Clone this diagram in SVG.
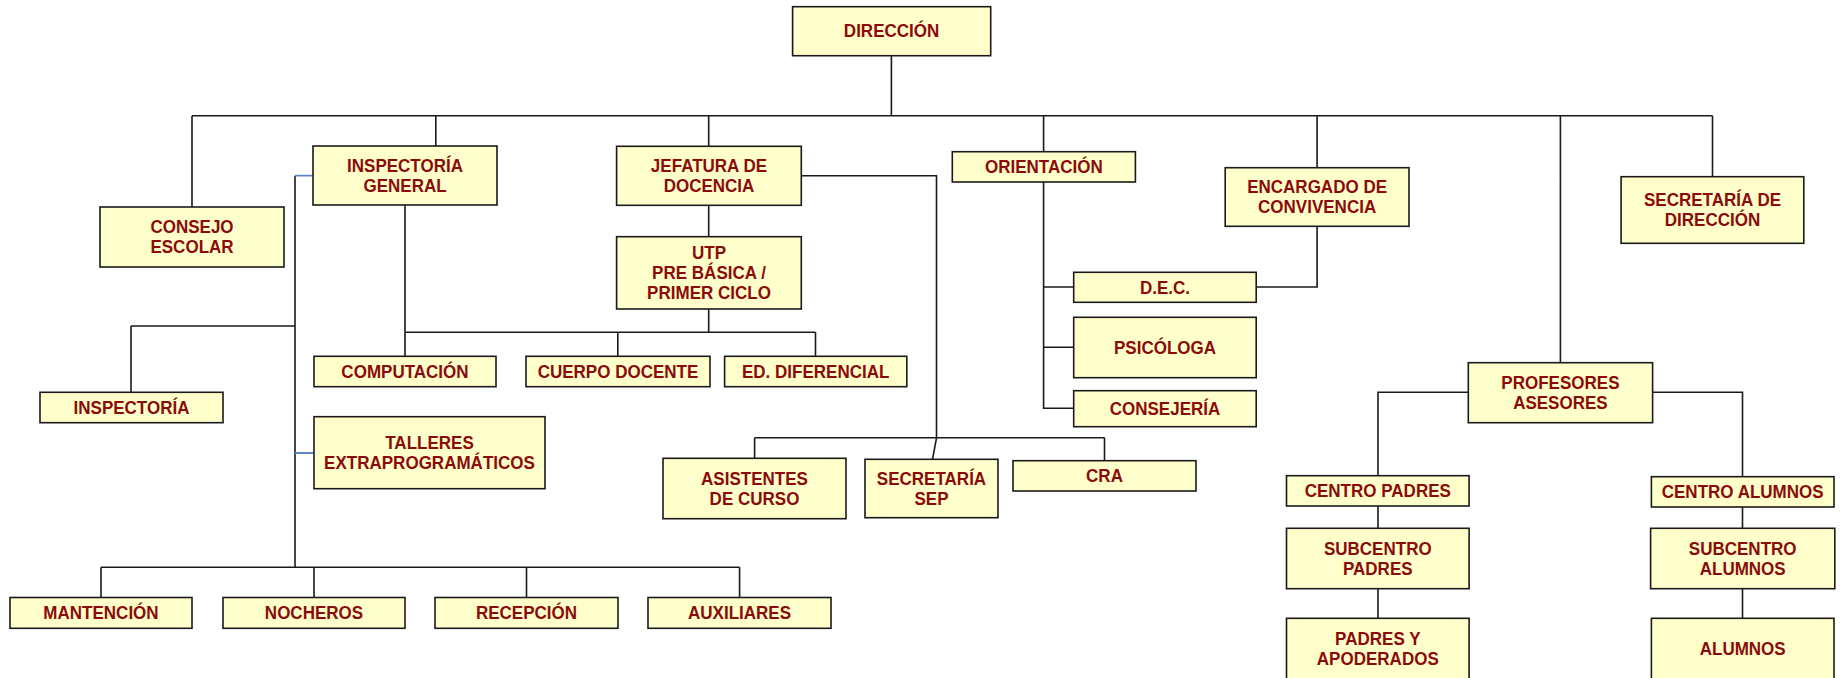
<svg xmlns="http://www.w3.org/2000/svg" width="1844" height="678" viewBox="0 0 1844 678">
<style>
.b{fill:#FFFFCC;stroke:#1a1a1a;stroke-width:1.6}
.t{font-family:"Liberation Sans",Arial,sans-serif;font-weight:bold;font-size:18.5px;fill:#8B0A0A;text-anchor:middle;transform-box:fill-box;transform-origin:center;transform:scaleX(0.92)}
.c{fill:none;stroke:#1a1a1a;stroke-width:1.6}
.bl{fill:none;stroke:#5B88CC;stroke-width:1.8}
</style>
<rect width="1844" height="678" fill="#ffffff"/>
<g id="connectors">
<path class="c" d="M891.4 55.7V115.7M192 115.7H1712.5M192 115.7V207M435.8 115.7V146M708.7 115.7V146M1043.6 115.7V151.7M1317.1 115.7V167.7M1560.4 115.7V362.7M1712.5 115.7V176.7"/>
<path class="c" d="M295 175.7V567.3M131 326H295M131 326V392.3M101 567.3H739.6M101 567.3V597.5M314 567.3V597.5M526.5 567.3V597.5M739.6 567.3V597.5"/>
<path class="bl" d="M295 175.7H313M295 453H314"/>
<path class="c" d="M405 205V332.3H815.5M617.8 332.3V356.3M815.5 332.3V356.3M405 332.3V356.3"/>
<path class="c" d="M708.7 205.3V236.7M708.7 309V332.3"/>
<path class="c" d="M801.3 175.7H936.5V438M754.6 437.7H1104.5M754.6 437.7V458.3M936.5 438L932.5 459.3M1104.5 437.7V460.7"/>
<path class="c" d="M1043.6 182V408.3H1073.7M1043.6 287H1073.7M1043.6 347.3H1073.7"/>
<path class="c" d="M1317.1 226.3V287H1256.2"/>
<path class="c" d="M1468.3 392.3H1378V475.7M1652.6 392.3H1742.5V476.7M1378 506V528.3M1378 588.7V618.3M1742.5 507V528.3M1742.5 588.7V618.3"/>
</g>
<g id="direccion"><rect class="b" x="792.6" y="6.7" width="198.1" height="49"/><text class="t" x="891.6" y="37.5">DIRECCIÓN</text></g>
<g id="consejo-escolar"><rect class="b" x="100" y="207" width="184" height="60"/><text class="t" x="192" y="233.3">CONSEJO</text><text class="t" x="192" y="253.3">ESCOLAR</text></g>
<g id="inspectoria-general"><rect class="b" x="313" y="146" width="184" height="59"/><text class="t" x="405" y="171.8">INSPECTORÍA</text><text class="t" x="405" y="191.8">GENERAL</text></g>
<g id="jefatura"><rect class="b" x="616.6" y="146.3" width="184.7" height="59"/><text class="t" x="709" y="172.1">JEFATURA DE</text><text class="t" x="709" y="192.1">DOCENCIA</text></g>
<g id="utp"><rect class="b" x="616.6" y="236.7" width="184.7" height="72.3"/><text class="t" x="709" y="259.1">UTP</text><text class="t" x="709" y="279.1">PRE BÁSICA /</text><text class="t" x="709" y="299.1">PRIMER CICLO</text></g>
<g id="orientacion"><rect class="b" x="952.3" y="151.7" width="183.1" height="30.3"/><text class="t" x="1043.9" y="173">ORIENTACIÓN</text></g>
<g id="encargado"><rect class="b" x="1225.2" y="167.7" width="183.8" height="58.6"/><text class="t" x="1317.1" y="193.3">ENCARGADO DE</text><text class="t" x="1317.1" y="213.3">CONVIVENCIA</text></g>
<g id="secretaria-direccion"><rect class="b" x="1621.1" y="176.7" width="182.7" height="66.6"/><text class="t" x="1712.5" y="206.3">SECRETARÍA DE</text><text class="t" x="1712.5" y="226.3">DIRECCIÓN</text></g>
<g id="dec"><rect class="b" x="1073.7" y="272.3" width="182.5" height="30"/><text class="t" x="1165" y="293.6">D.E.C.</text></g>
<g id="psicologa"><rect class="b" x="1073.7" y="317.3" width="182.5" height="60.4"/><text class="t" x="1165" y="353.8">PSICÓLOGA</text></g>
<g id="consejeria"><rect class="b" x="1073.7" y="390.7" width="182.5" height="36"/><text class="t" x="1165" y="415">CONSEJERÍA</text></g>
<g id="inspectoria"><rect class="b" x="40" y="392.3" width="183" height="30.4"/><text class="t" x="131.5" y="413.8">INSPECTORÍA</text></g>
<g id="computacion"><rect class="b" x="314" y="356.3" width="182" height="30.4"/><text class="t" x="405" y="377.8">COMPUTACIÓN</text></g>
<g id="cuerpo-docente"><rect class="b" x="526" y="356.3" width="184" height="30.4"/><text class="t" x="618" y="377.8">CUERPO DOCENTE</text></g>
<g id="ed-diferencial"><rect class="b" x="724.6" y="356.3" width="182.2" height="30.4"/><text class="t" x="815.7" y="377.8">ED. DIFERENCIAL</text></g>
<g id="talleres"><rect class="b" x="314" y="416.7" width="231" height="72"/><text class="t" x="429.5" y="449">TALLERES</text><text class="t" x="429.5" y="469">EXTRAPROGRAMÁTICOS</text></g>
<g id="asistentes"><rect class="b" x="663" y="458.3" width="183" height="60.4"/><text class="t" x="754.5" y="484.8">ASISTENTES</text><text class="t" x="754.5" y="504.8">DE CURSO</text></g>
<g id="secretaria-sep"><rect class="b" x="865" y="459.3" width="133" height="58.4"/><text class="t" x="931.5" y="484.8">SECRETARÍA</text><text class="t" x="931.5" y="504.8">SEP</text></g>
<g id="cra"><rect class="b" x="1013" y="460.7" width="183" height="30.3"/><text class="t" x="1104.5" y="481.8">CRA</text></g>
<g id="mantencion"><rect class="b" x="10" y="597.5" width="182" height="30.8"/><text class="t" x="101" y="619.2">MANTENCIÓN</text></g>
<g id="nocheros"><rect class="b" x="223" y="597.5" width="182" height="30.8"/><text class="t" x="314" y="619.2">NOCHEROS</text></g>
<g id="recepcion"><rect class="b" x="435" y="597.5" width="183" height="30.8"/><text class="t" x="526.5" y="619.2">RECEPCIÓN</text></g>
<g id="auxiliares"><rect class="b" x="648" y="597.5" width="183" height="30.8"/><text class="t" x="739.5" y="619.2">AUXILIARES</text></g>
<g id="profesores-asesores"><rect class="b" x="1468.3" y="362.7" width="184.3" height="60"/><text class="t" x="1560.4" y="389">PROFESORES</text><text class="t" x="1560.4" y="409">ASESORES</text></g>
<g id="centro-padres"><rect class="b" x="1286.5" y="475.7" width="182.6" height="30.3"/><text class="t" x="1377.8" y="497">CENTRO PADRES</text></g>
<g id="subcentro-padres"><rect class="b" x="1286.5" y="528.3" width="182.6" height="60.4"/><text class="t" x="1377.8" y="554.8">SUBCENTRO</text><text class="t" x="1377.8" y="574.8">PADRES</text></g>
<g id="padres-apoderados"><rect class="b" x="1286.5" y="618.3" width="182.6" height="70"/><text class="t" x="1377.8" y="645">PADRES Y</text><text class="t" x="1377.8" y="665">APODERADOS</text></g>
<g id="centro-alumnos"><rect class="b" x="1651.4" y="476.7" width="182.6" height="30.3"/><text class="t" x="1742.7" y="498">CENTRO ALUMNOS</text></g>
<g id="subcentro-alumnos"><rect class="b" x="1650.6" y="528.3" width="184.2" height="60.4"/><text class="t" x="1742.7" y="554.8">SUBCENTRO</text><text class="t" x="1742.7" y="574.8">ALUMNOS</text></g>
<g id="alumnos"><rect class="b" x="1651.4" y="618.3" width="182.6" height="70"/><text class="t" x="1742.7" y="655">ALUMNOS</text></g>
</svg>
